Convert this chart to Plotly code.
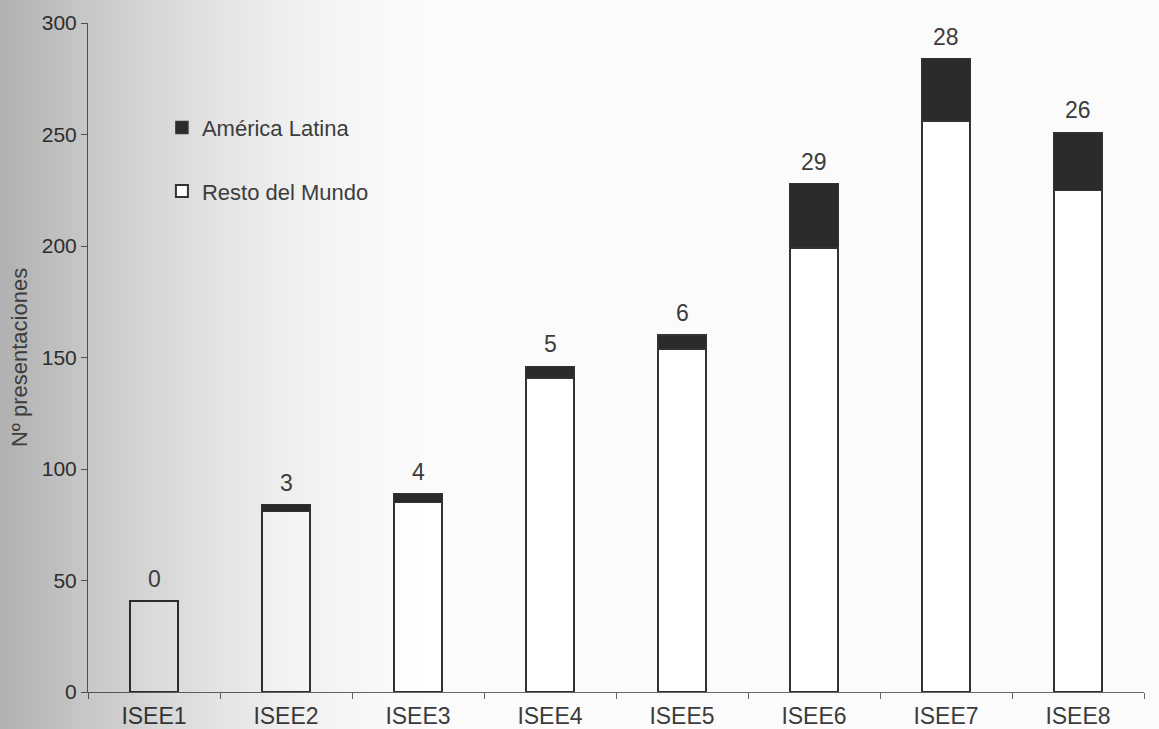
import plotly.graph_objects as go

categories = ["ISEE1", "ISEE2", "ISEE3", "ISEE4", "ISEE5", "ISEE6", "ISEE7", "ISEE8"]
resto_mundo = [41, 81, 85, 141, 154, 199, 256, 225]
america_latina = [0, 3, 4, 5, 6, 29, 28, 26]
totals = [r + a for r, a in zip(resto_mundo, america_latina)]

font_family = "Liberation Sans, Arial, sans-serif"
txt = "#3c3c3c"
edge = "#333333"

W, H = 1159, 729
ML, MR, MT, MB = 88, 15, 23, 37
PW = W - ML - MR
PH = H - MT - MB

fig = go.Figure()
fig.add_trace(go.Bar(
    x=categories, y=resto_mundo, name="Resto del Mundo",
    marker=dict(color="white", line=dict(color=edge, width=2)),
    legendgroup="r", legendrank=2,
))
fig.add_trace(go.Bar(
    x=categories, y=america_latina, name="América Latina",
    marker=dict(color="#2b2b2b", line=dict(color=edge, width=1.5)),
    legendgroup="a", legendrank=1,
))

annotations = [
    dict(x=c, y=t, text=str(a), showarrow=False, yanchor="bottom", yshift=7,
         font=dict(size=23, color=txt, family=font_family))
    for c, t, a in zip(categories, totals, america_latina)
]

# scanned-paper shading on the left side (overlay)
shapes = []
step = 8
for sx in range(0, 440, step):
    f = max(0.0, 1 - (sx + step / 2) / 440.0) ** 1.7
    a = 0.30 * f
    shapes.append(dict(
        type="rect", xref="paper", yref="paper", layer="above",
        x0=(sx - ML) / PW, x1=(sx + step - ML) / PW,
        y0=-MB / PH - 0.01, y1=1 + MT / PH + 0.01,
        fillcolor=f"rgba(0,0,0,{a:.3f})", line=dict(width=0),
    ))

fig.update_layout(
    width=W, height=H,
    barmode="stack", bargap=0.63,
    paper_bgcolor="#fbfbfb", plot_bgcolor="rgba(0,0,0,0)",
    margin=dict(l=ML, r=MR, t=MT, b=MB, autoexpand=False),
    font=dict(family=font_family, color=txt, size=21),
    annotations=annotations,
    shapes=shapes,
    legend=dict(
        x=0.07, y=0.875, xanchor="left", yanchor="top",
        traceorder="grouped", tracegroupgap=32,
        font=dict(size=22, color=txt), bgcolor="rgba(0,0,0,0)",
        itemwidth=30,
    ),
    xaxis=dict(
        range=[-0.5, 7.5], showline=True, linecolor="#666666", linewidth=1,
        ticks="outside", tickson="boundaries", ticklen=6, tickcolor="#666666",
        tickfont=dict(size=23, color=txt), showgrid=False, automargin=False,
        ticklabelstandoff=3,
    ),
    yaxis=dict(
        range=[0, 300], showline=True, linecolor="#666666", linewidth=1,
        ticks="outside", ticklen=6, tickcolor="#666666", dtick=50,
        tickfont=dict(size=21, color=txt), showgrid=False, zeroline=False,
        title=dict(text="Nº presentaciones", font=dict(size=22, color=txt), standoff=8),
        automargin=False,
    ),
)

fig.write_html("out.html", config={"displayModeBar": False},
               post_script="document.body.style.margin='0';")
